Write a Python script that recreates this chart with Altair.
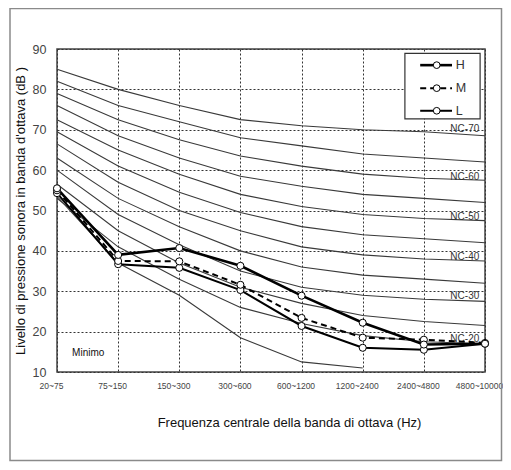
import json
import altair as alt
import pandas as pd

# ---------------- data ----------------
bands = ["20~75", "75~150", "150~300", "300~600", "600~1200",
         "1200~2400", "2400~4800", "4800~10000"]

H = [55.5, 39.0, 40.7, 36.3, 28.9, 22.2, 16.8, 17.0]
M = [55.0, 37.5, 37.4, 31.6, 23.4, 18.5, 18.0, 17.2]
L = [54.3, 36.7, 35.8, 30.3, 21.4, 16.0, 15.5, 17.0]

nc70 = [85.0, 80.0, 76.0, 72.5, 71.0, 70.0, 69.5, 68.5]
nc65 = [82.0, 76.0, 72.0, 68.0, 66.0, 64.0, 63.0, 62.0]
nc60 = [79.0, 72.5, 67.5, 63.5, 61.0, 59.0, 58.0, 57.5]
nc55 = [76.0, 68.5, 63.0, 58.5, 56.0, 54.0, 53.0, 52.0]
nc50 = [72.5, 65.0, 59.0, 54.0, 51.0, 49.0, 48.0, 47.5]
nc45 = [69.5, 61.0, 54.5, 49.5, 46.0, 44.0, 43.0, 42.0]
nc40 = [66.5, 57.0, 50.0, 45.0, 41.0, 39.0, 38.0, 37.5]
nc35 = [63.0, 53.0, 46.0, 40.0, 36.0, 34.0, 33.0, 32.0]
nc30 = [60.0, 49.0, 41.5, 35.0, 31.0, 29.0, 28.0, 27.5]
nc25 = [56.5, 45.0, 37.0, 31.0, 27.0, 24.0, 22.5, 21.5]
nc20 = [53.0, 41.0, 33.0, 26.0, 22.0, 19.0, 17.5, 17.0]
minimo = [53.5, 37.0, 29.0, 18.5, 12.5, 11.0]

nc_curves = [nc70, nc65, nc60, nc55, nc50, nc45, nc40, nc35, nc30, nc25, nc20]
nc_curve_names = ["NC-70", "NC-65", "NC-60", "NC-55", "NC-50", "NC-45",
                  "NC-40", "NC-35", "NC-30", "NC-25", "NC-20"]

nc_label_text = ["NC-70", "NC-60", "NC-50", "NC-40", "NC-30", "NC-20"]
nc_label_v = [70.2, 58.4, 48.5, 38.6, 28.7, 18.2]

series_names = ["H", "M", "L"]
series_values = [H, M, L]

# ---------------- tables ----------------
nc_rows = []
for name, vals in zip(nc_curve_names, nc_curves):
    for i, v in enumerate(vals):
        nc_rows.append({"name": name, "i": i, "v": v})
nc_rows += [{"name": "Minimo", "i": i, "v": v} for i, v in enumerate(minimo)]
nc_df = pd.DataFrame(nc_rows)

series_dfs = {n: pd.DataFrame({"i": list(range(len(vals))), "v": vals})
              for n, vals in zip(series_names, series_values)}

LABEL_I = 6.67
nc_lab_df = pd.DataFrame({"i": [LABEL_I] * len(nc_label_text),
                          "v": nc_label_v, "t": nc_label_text})
minimo_df = pd.DataFrame({"i": [0.51], "v": [14.6], "t": ["Minimo"]})

# legend layout (in data units of the chart)
LEG_X0, LEG_X1, LEG_Y0, LEG_Y1 = 5.69, 6.92, 88.9, 72.7
LEG_SYM0, LEG_SYM1, LEG_DOT, LEG_TXT = 5.94, 6.46, 6.21, 6.52
leg_rows_v = [86.0, 80.3, 74.7]

# ---------------- encodings ----------------
GRID = dict(grid=True, gridDash=[2, 2], gridColor="#333", gridOpacity=1,
            gridWidth=1)
label_expr = json.dumps(bands) + "[datum.value]"
x_enc = alt.X("i:Q", scale=alt.Scale(domain=[0, 7], nice=False, zero=False),
              axis=alt.Axis(values=list(range(8)), labelExpr=label_expr,
                            title="Frequenza centrale della banda di ottava (Hz)",
                            ticks=False, domain=False, labelPadding=9,
                            labelOffset=-6, labelFontSize=8.5,
                            labelColor="#444", labelFont="Liberation Sans",
                            labelFlush=False,
                            titleFont="Liberation Sans", titleFontSize=13,
                            titleFontWeight="normal", titleColor="#111",
                            titleX=232, titleY=57, titleBaseline="bottom",
                            **GRID))
y_enc = alt.Y("v:Q", scale=alt.Scale(domain=[10, 90], nice=False, zero=False),
              axis=alt.Axis(values=list(range(10, 100, 10)),
                            title="Livello di pressione sonora in banda d'ottava (dB )",
                            ticks=False, domain=False, labelPadding=11,
                            labelFontSize=12.5, labelColor="#444",
                            labelFont="Liberation Sans Narrow, Liberation Sans",
                            titleFont="Liberation Sans", titleFontSize=13,
                            titleFontWeight="normal", titleColor="#111",
                            titlePadding=5, **GRID))


def enc(**kw):
    return dict(x=x_enc, y=y_enc, **kw)


layers = []

# outer frame (decoration around the whole figure)
frame = alt.Chart(pd.DataFrame({"k": [0]})).mark_rect(
    fillOpacity=0, stroke="#8a8a8a", strokeWidth=1.5
).encode(x=alt.value(-47), x2=alt.value(444.5), y=alt.value(-40.5),
         y2=alt.value(411.5))

nc_layer = alt.Chart(nc_df).mark_line(color="#3a3a3a", strokeWidth=1.1).encode(
    **enc(detail="name:N"))
layers.append(nc_layer)

nc_text = alt.Chart(nc_lab_df).mark_text(
    font="Liberation Sans", fontSize=10, color="#333", align="center",
    baseline="middle").encode(**enc(text="t:N"))
layers.append(nc_text)

min_text = alt.Chart(minimo_df).mark_text(
    font="Liberation Sans", fontSize=10, color="#111", align="center",
    baseline="middle").encode(**enc(text="t:N"))
layers.append(min_text)

line_styles = {
    "H": dict(strokeWidth=2.6),
    "M": dict(strokeWidth=2.0, strokeDash=[6, 4]),
    "L": dict(strokeWidth=2.0),
}
for n in ["L", "M", "H"]:
    layers.append(alt.Chart(series_dfs[n]).mark_line(color="black",
                                                     **line_styles[n]).encode(**enc()))
for n in ["L", "M", "H"]:
    layers.append(alt.Chart(series_dfs[n]).mark_point(
        shape="circle", filled=True, fill="white", stroke="black",
        strokeWidth=1, size=50, opacity=1).encode(**enc()))

# legend
leg_box = alt.Chart(pd.DataFrame({"i": [LEG_X0], "i2": [LEG_X1],
                                  "v": [LEG_Y0], "v2": [LEG_Y1]})).mark_rect(
    fill="white", stroke="#333", strokeWidth=1.2).encode(
    **enc(x2="i2:Q", y2="v2:Q"))
layers.append(leg_box)

for n, lv in zip(series_names, leg_rows_v):
    seg = pd.DataFrame({"i": [LEG_SYM0, LEG_SYM1], "v": [lv, lv]})
    layers.append(alt.Chart(seg).mark_line(color="black", **line_styles[n]).encode(**enc()))
    dot = pd.DataFrame({"i": [LEG_DOT], "v": [lv]})
    layers.append(alt.Chart(dot).mark_point(
        shape="circle", filled=True, fill="white", stroke="black",
        strokeWidth=1, size=45, opacity=1).encode(**enc()))
    txt = pd.DataFrame({"i": [LEG_TXT], "v": [lv], "t": [n]})
    layers.append(alt.Chart(txt).mark_text(
        font="Liberation Sans Narrow, Liberation Sans", fontSize=12.5,
        color="#333", align="left", baseline="middle").encode(**enc(text="t:N")))

chart = alt.layer(frame, *layers).properties(
    width=428, height=323,
    autosize=alt.AutoSizeParams(type="none"),
    padding={"left": 49, "top": 41, "right": 18, "bottom": 90},
    background="white",
).configure_view(stroke="#444", strokeWidth=1.5)

chart.save("out.html", embed_options={"renderer": "svg", "actions": False})
